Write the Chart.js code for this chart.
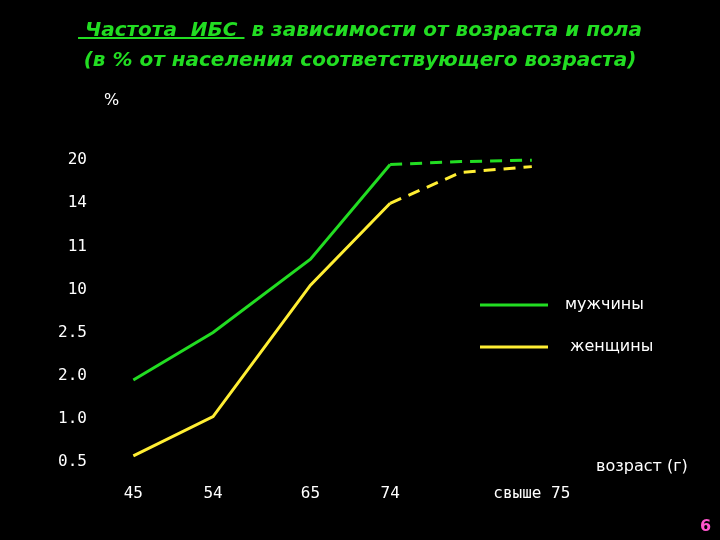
<!DOCTYPE html><html><head><meta charset="utf-8">
<script src="https://cdn.jsdelivr.net/npm/chart.js@4"></script>
<style>body{margin:0;background:#000;width:720px;height:540px;overflow:hidden;position:relative;font-family:"DejaVu Sans",sans-serif}
#t{position:absolute;top:14px;left:0;width:720px;text-align:center;color:#22dd22;font-style:italic;font-weight:bold;font-size:20px;line-height:30px}
.a{position:absolute;color:#fff;font-size:16px}
canvas{position:absolute;left:0;top:0}</style></head><body>
<canvas id="c" width="720" height="540"></canvas>
<div id="t"><u>&nbsp;Частота&nbsp; ИБС&nbsp;</u> в зависимости от возраста и пола<br>(в % от населения соответствующего возраста)</div>
<div class="a" style="left:104px;top:90px">%</div>
<div class="a" style="left:596px;top:456px">возраст (г)</div>
<div class="a" style="left:700px;top:516px;color:#ff55cc;font-weight:bold">6</div>
<script>
const yTicks=[0.5,1.0,2.0,2.5,10,11,14,20];
const yTickLabels=["0.5","1.0","2.0","2.5","10","11","14","20"];
const tickAges=[45,54,65,74,90];
const ageLabels=["45","54","65","74","свыше 75"];
const ages=[45,54,65,74,82,90];
const men=[1.9,2.5,10.7,19.4,19.8,20];
const women=[0.57,1.05,10.1,14,18.3,19.1];
function pos(v){for(let i=0;i<yTicks.length-1;i++){if(v<=yTicks[i+1])return i+(v-yTicks[i])/(yTicks[i+1]-yTicks[i]);}return yTicks.length-1;}
const pts=a=>a.map((v,i)=>({x:ages[i],y:pos(v)}));
const dashSeg={borderDash:c=>c.p0DataIndex>=3?[12,8]:undefined};
const legend={id:'lg',afterDraw(ch){const g=ch.ctx;g.save();g.lineWidth=3;
[['#22dd22','мужчины',305,565],['#ffee33','женщины',347,570]].forEach(([c,t,y,tx])=>{g.strokeStyle=c;g.beginPath();g.moveTo(480,y);g.lineTo(548,y);g.stroke();g.fillStyle='#fff';g.font='16px "DejaVu Sans"';g.textBaseline='middle';g.fillText(t,tx,y);});g.restore();}};
new Chart(document.getElementById('c'),{type:'line',
data:{datasets:[
{data:pts(men),borderColor:'#22dd22',borderWidth:3,pointRadius:0,segment:dashSeg,tension:0},
{data:pts(women),borderColor:'#ffee33',borderWidth:3,pointRadius:0,segment:dashSeg,tension:0}]},
options:{responsive:false,animation:false,layout:{padding:{top:130,right:120,left:0,bottom:0}},
plugins:{legend:{display:false},tooltip:{enabled:false}},
scales:{
x:{type:'linear',min:41.8,max:97.7,grid:{display:false},border:{display:false},
afterBuildTicks:s=>{s.ticks=tickAges.map(v=>({value:v}));},afterFit:s=>{s.height=70;},
ticks:{color:'#fff',font:{family:'DejaVu Sans Mono',size:16},padding:6,maxRotation:0,autoSkip:false,callback:(v)=>ageLabels[tickAges.indexOf(v)]}},
y:{type:'linear',min:-0.19,max:7.7,grid:{display:false},border:{display:false},
afterBuildTicks:s=>{s.ticks=yTicks.map((v,i)=>({value:i}));},afterFit:s=>{s.width=105;},
ticks:{color:'#fff',font:{family:'DejaVu Sans Mono',size:16},padding:10,callback:v=>yTickLabels[v]}}}},
plugins:[legend]});
</script></body></html>
